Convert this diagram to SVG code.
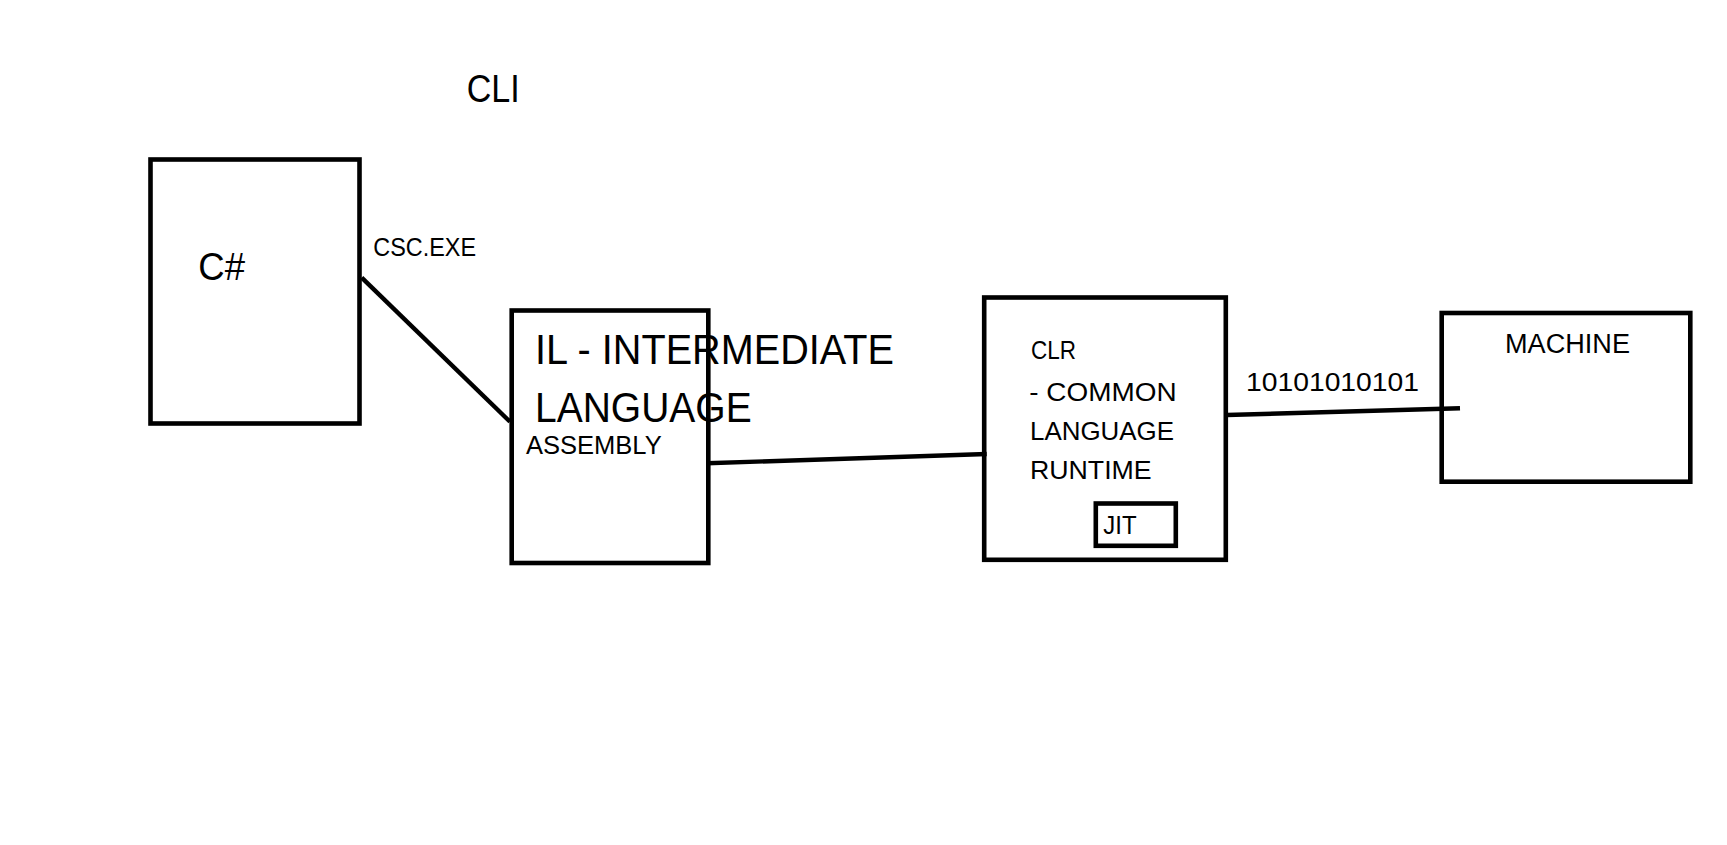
<svg xmlns="http://www.w3.org/2000/svg" width="1727" height="845" viewBox="0 0 1727 845">
<style>
.box{fill:none;stroke:#000;stroke-width:4.6}
.conn{fill:none;stroke:#000;stroke-width:4.4;stroke-linecap:butt}
text{font-family:"Liberation Sans",Arial,sans-serif;fill:#000}
</style>
<rect width="1727" height="845" fill="#fff"/>
<text id="cli" x="466.7" y="102.3" font-size="39.5" textLength="53" lengthAdjust="spacingAndGlyphs">CLI</text>
<g id="connectors">
<line class="conn" x1="361.7" y1="277.7" x2="510" y2="421.7"/>
<line class="conn" x1="706.7" y1="463.3" x2="986.7" y2="454"/>
<line class="conn" x1="1226.7" y1="415" x2="1460" y2="408.3"/>
<text x="373.3" y="255.7" font-size="26.5" textLength="102.7" lengthAdjust="spacingAndGlyphs">CSC.EXE</text>
<text x="1246" y="390.7" font-size="26.5" textLength="173" lengthAdjust="spacingAndGlyphs">10101010101</text>
</g>
<g id="csharp">
<rect class="box" x="150.5" y="159.5" width="209" height="264"/>
<text x="198.3" y="280" font-size="38.7" textLength="46.7" lengthAdjust="spacingAndGlyphs">C#</text>
</g>
<g id="il">
<rect class="box" x="511.7" y="310.5" width="196.6" height="252.5"/>
<text x="535" y="364" font-size="42.9" textLength="359" lengthAdjust="spacingAndGlyphs">IL - INTERMEDIATE</text>
<text x="535" y="422.3" font-size="42.9" textLength="216.7" lengthAdjust="spacingAndGlyphs">LANGUAGE</text>
<text x="526" y="454.3" font-size="26" textLength="135.7" lengthAdjust="spacingAndGlyphs">ASSEMBLY</text>
</g>
<g id="clr">
<rect class="box" x="984.2" y="297.5" width="241.6" height="262.3"/>
<text x="1031" y="359" font-size="25.5" textLength="45" lengthAdjust="spacingAndGlyphs">CLR</text>
<text x="1029.3" y="401" font-size="25.5" textLength="147.3" lengthAdjust="spacingAndGlyphs">- COMMON</text>
<text x="1030" y="440" font-size="25.5" textLength="144" lengthAdjust="spacingAndGlyphs">LANGUAGE</text>
<text x="1030" y="479.3" font-size="25.5" textLength="121.7" lengthAdjust="spacingAndGlyphs">RUNTIME</text>
</g>
<g id="jit">
<rect class="box" x="1095.8" y="503.5" width="80" height="42.3"/>
<text x="1103.3" y="534" font-size="25" textLength="33.3" lengthAdjust="spacingAndGlyphs">JIT</text>
</g>
<g id="machine">
<rect class="box" x="1441.7" y="313" width="248.6" height="168.7"/>
<text x="1505" y="352.7" font-size="27" textLength="125" lengthAdjust="spacingAndGlyphs">MACHINE</text>
</g>
</svg>
